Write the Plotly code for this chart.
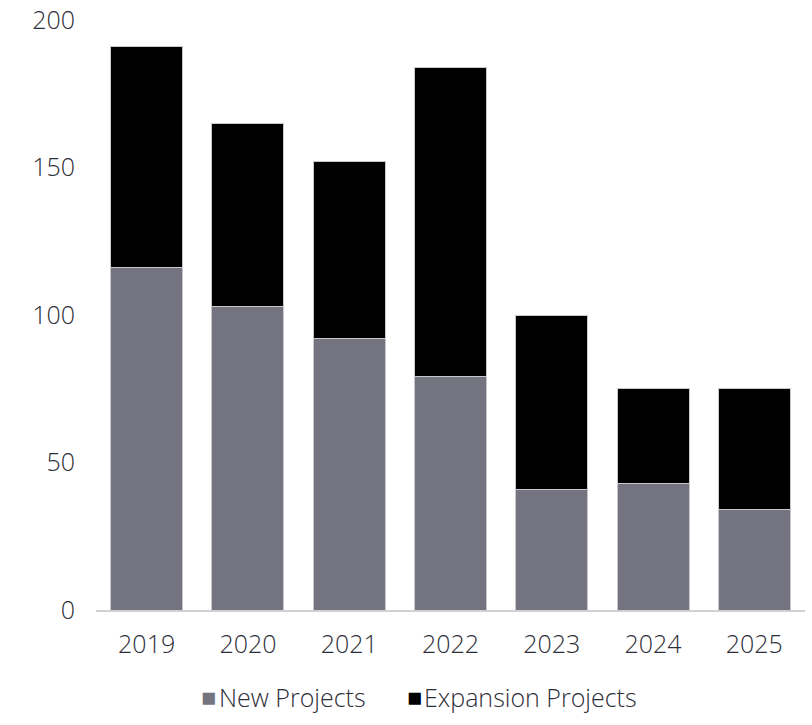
import plotly.graph_objects as go

years = ["2019", "2020", "2021", "2022", "2023", "2024", "2025"]
new_projects = [116, 103, 92, 79, 41, 43, 34]
expansion_projects = [75, 62, 60, 105, 59, 32, 41]
y_ticks = [0, 50, 100, 150, 200]

series_names = ["New Projects", "Expansion Projects"]
series_colors = ["#747480", "#000000"]

font_family = "Open Sans, Noto Sans, sans-serif"
text_color = "#2e2e38"
font_size = 25

fig = go.Figure()
for name, color, values in zip(series_names, series_colors, [new_projects, expansion_projects]):
    fig.add_trace(go.Bar(
        x=years, y=values, name=name,
        marker=dict(color=color, line=dict(color="#c8c8cc", width=1)),
    ))

# Legend row below the axis: small square swatch followed by the series name
legend_x = [0.172, 0.462]
for lx, name, color in zip(legend_x, series_names, series_colors):
    fig.add_annotation(
        xref="paper", yref="paper", x=lx, y=0, yshift=-87, xanchor="right", yanchor="middle",
        text="■", showarrow=False, font=dict(size=25, color=color, family="DejaVu Sans"),
    )
    fig.add_annotation(
        xref="paper", yref="paper", x=lx - 0.002, y=0, yshift=-87, xanchor="left", yanchor="middle",
        text=name, showarrow=False, font=dict(size=font_size, color=text_color, family=font_family, weight=300),
    )

fig.update_layout(
    barmode="stack",
    bargap=0.29,
    width=812, height=725,
    margin=dict(l=96, r=7, t=20, b=115, autoexpand=False),
    paper_bgcolor="white", plot_bgcolor="white",
    font=dict(family=font_family, size=font_size, color=text_color, weight=300),
    showlegend=False,
    xaxis=dict(
        showline=True, linecolor="#d0d0d4", linewidth=2, automargin=False,
        showgrid=False, ticks="", tickfont=dict(size=font_size, weight=300),
        ticklabelstandoff=11,
    ),
    yaxis=dict(
        range=[0, 200], tickvals=y_ticks, showgrid=False, zeroline=False,
        showline=False, ticks="", ticklabelstandoff=20, automargin=False,
        tickfont=dict(size=font_size, weight=300),
    ),
)

fig.write_html("out.html")
